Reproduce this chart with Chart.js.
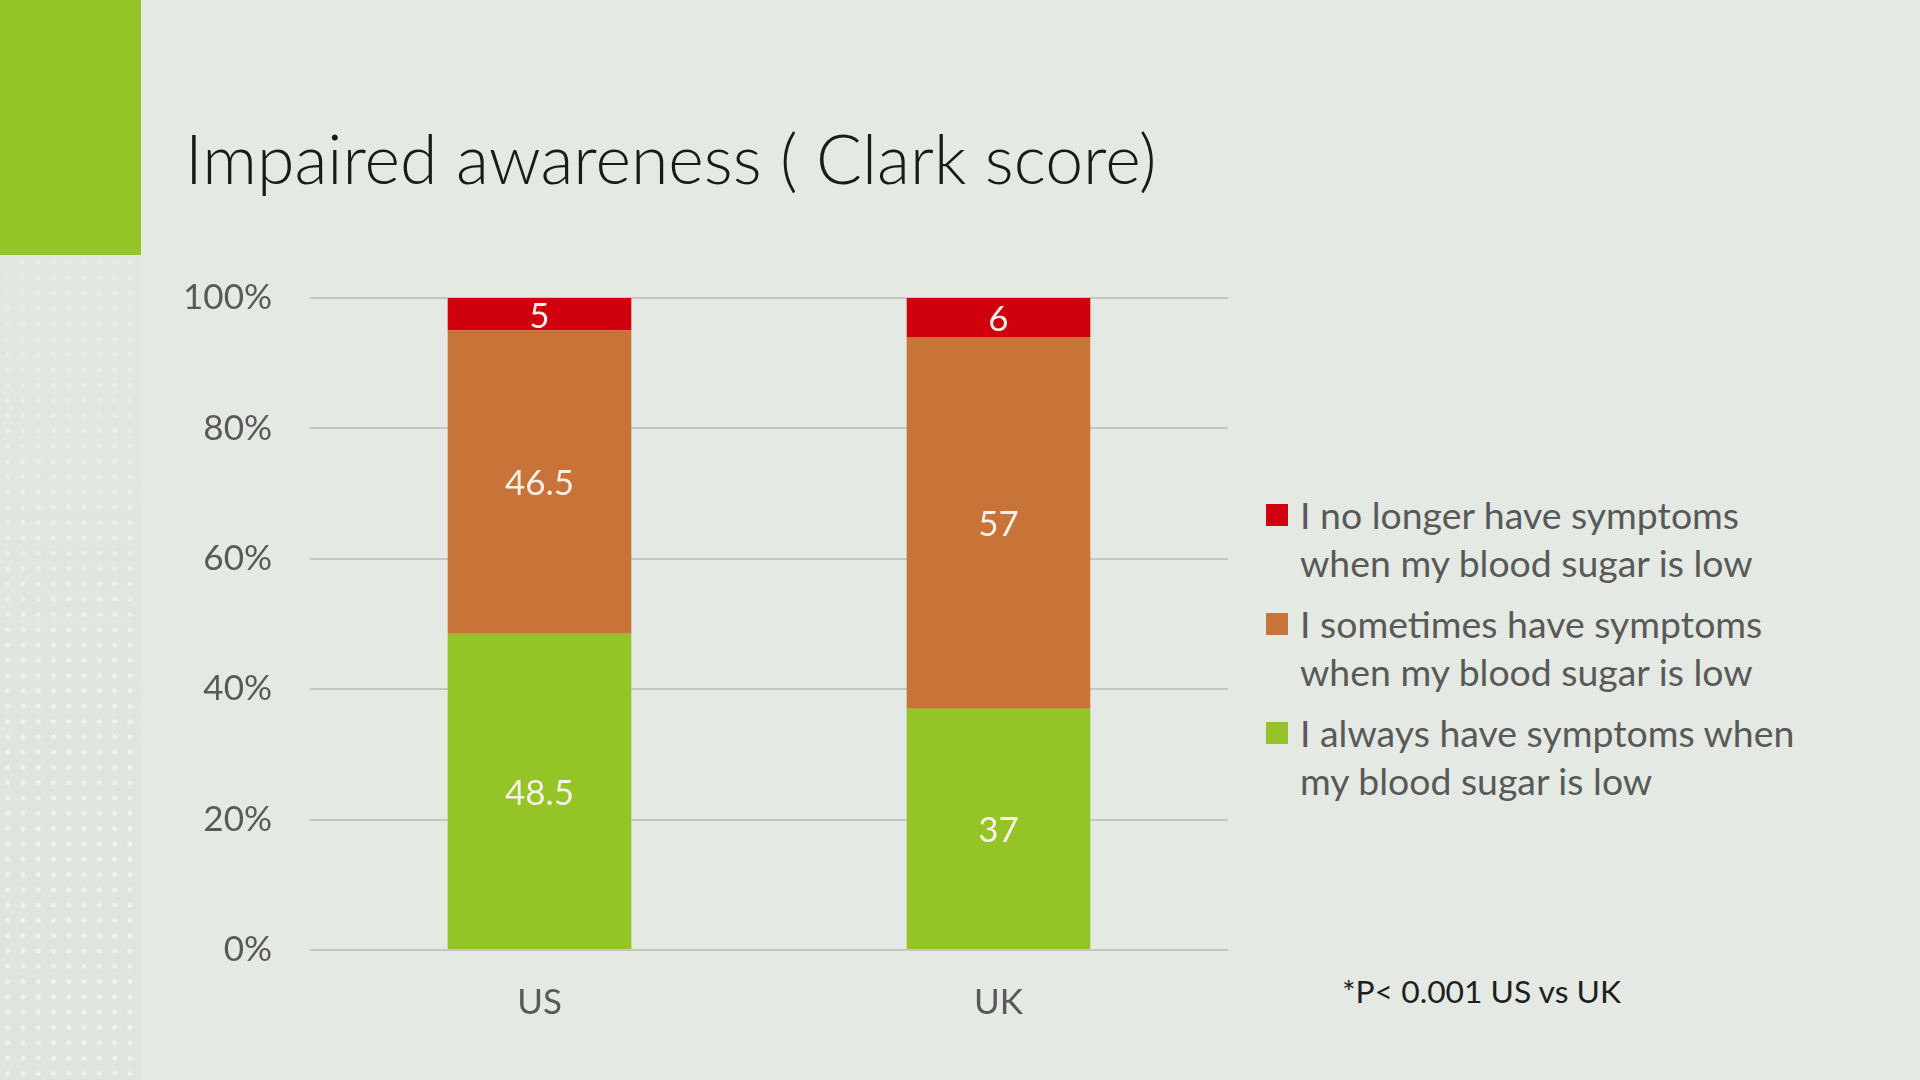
<!DOCTYPE html>
<html>
<head>
<meta charset="utf-8">
<script src="https://cdn.jsdelivr.net/npm/chart.js@4.4.1/dist/chart.umd.min.js"></script>
<style>
  html, body { margin: 0; padding: 0; }
  body {
    width: 1920px; height: 1080px; overflow: hidden; position: relative;
    background: #e4e9e3; font-family: Lato, "Open Sans", sans-serif;
  }
  #greenBox { position: absolute; left: 0; top: 0; width: 141px; height: 255px; background: #95c427; }
  #strip {
    position: absolute; left: 0; top: 255px; width: 141px; height: 825px;
    background-color: #dfe4de;
    background-image: radial-gradient(circle, rgba(255,255,255,0.5) 2.2px, transparent 2.8px);
    background-size: 15.3px 15.3px;
    -webkit-mask-image: linear-gradient(to bottom, rgba(0,0,0,0.35), #000 60%);
  }
  #title {
    position: absolute; left: 185px; top: 124px; margin: 0;
    font-weight: 300; font-size: 68px; color: #1a1a1a; white-space: nowrap; line-height: 1;
  }
  #chartBox { position: absolute; left: 150px; top: 239px; width: 1090px; height: 821px; }
  #legend { position: absolute; left: 1266px; top: 491px; }
  .item { position: relative; padding-left: 34px; height: 109px; }
  .sw { position: absolute; left: 0; top: 13px; width: 22px; height: 22px; }
  .txt { font-size: 37.4px; line-height: 48px; color: #595959; white-space: nowrap; }
  #note { position: absolute; left: 1342px; top: 972px; font-size: 31.8px; color: #1f1f1f; white-space: nowrap; }
</style>
</head>
<body>
<div id="greenBox"></div>
<div id="strip"></div>
<h1 id="title">Impaired awareness ( Clark score)</h1>
<div id="chartBox"><canvas id="chart"></canvas></div>
<div id="legend"></div>
<div id="note">*P&lt; 0.001 US vs UK</div>
<script>
const categories = ["US", "UK"];
const alwaysValues = [48.5, 37];
const sometimesValues = [46.5, 57];
const noLongerValues = [5, 6];
const seriesLabels = [
  ["I always have symptoms when", "my blood sugar is low"],
  ["I sometimes have symptoms", "when my blood sugar is low"],
  ["I no longer have symptoms", "when my blood sugar is low"]
];
const seriesColors = ["#95c427", "#c87338", "#d1000f"];
const yTicks = [0, 20, 40, 60, 80, 100];

const barLabels = {
  id: "barLabels",
  afterDatasetsDraw(chart) {
    const ctx = chart.ctx;
    ctx.save();
    ctx.fillStyle = "#f7efe8";
    ctx.font = "35px Lato, 'Open Sans', sans-serif";
    ctx.textAlign = "center";
    ctx.textBaseline = "middle";
    chart.data.datasets.forEach((ds, i) => {
      chart.getDatasetMeta(i).data.forEach((bar, j) => {
        const p = bar.getProps(["x", "y", "base"], true);
        ctx.fillText(String(ds.data[j]), p.x, (p.y + p.base) / 2 + 2);
      });
    });
    ctx.restore();
  }
};

new Chart(document.getElementById("chart"), {
  type: "bar",
  data: {
    labels: categories,
    datasets: [
      { label: seriesLabels[0].join(" "), data: alwaysValues, backgroundColor: seriesColors[0] },
      { label: seriesLabels[1].join(" "), data: sometimesValues, backgroundColor: seriesColors[1] },
      { label: seriesLabels[2].join(" "), data: noLongerValues, backgroundColor: seriesColors[2] }
    ]
  },
  options: {
    responsive: true,
    maintainAspectRatio: false,
    animation: false,
    layout: { padding: { top: 18, right: 12 } },
    datasets: { bar: { barPercentage: 0.4, categoryPercentage: 1.0, borderWidth: 0 } },
    plugins: { legend: { display: false }, tooltip: { enabled: false } },
    scales: {
      x: {
        stacked: true,
        grid: { display: false, drawTicks: false },
        border: { display: false },
        ticks: { color: "#595959", font: { family: "Lato", size: 35 }, padding: 32 },
        afterFit(scale) { scale.height = 110; }
      },
      y: {
        stacked: true,
        min: 0,
        max: 100,
        afterBuildTicks(scale) { scale.ticks = yTicks.map(v => ({ value: v })); },
        grid: { color: "#c3c7c2", lineWidth: 2, drawTicks: false },
        border: { display: false },
        ticks: { color: "#595959", font: { family: "Lato", size: 35 }, padding: 38, callback: v => v + "%" },
        afterFit(scale) { scale.width = 160; }
      }
    }
  },
  plugins: [barLabels]
});

// legend, top series first as in the picture
const legend = document.getElementById("legend");
for (let i = seriesLabels.length - 1; i >= 0; i--) {
  const item = document.createElement("div");
  item.className = "item";
  item.innerHTML = '<span class="sw" style="background:' + seriesColors[i] + '"></span>' +
    '<div class="txt">' + seriesLabels[i].join("<br>") + '</div>';
  legend.appendChild(item);
}
</script>
</body>
</html>
